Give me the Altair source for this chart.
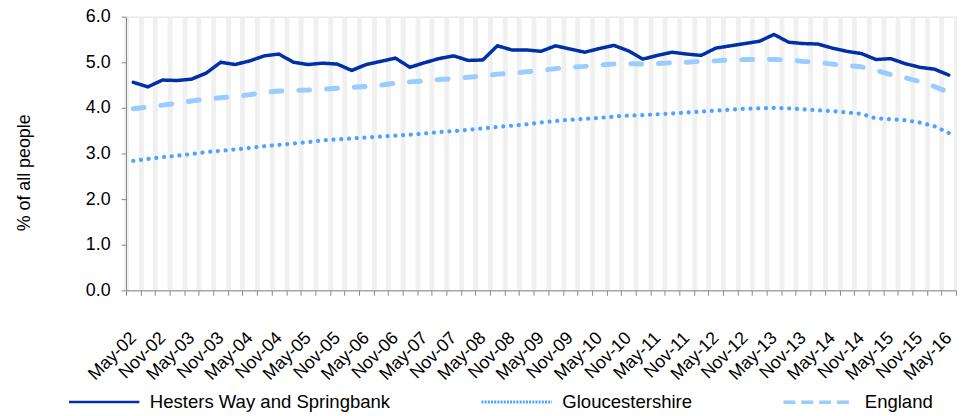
import altair as alt
import pandas as pd

FONT = "Liberation Sans"

# Quarterly periods, May-02 .. May-16
month_names = ["Feb", "May", "Aug", "Nov"]
years = list(range(2, 17))
all_q = [f"{m}-{y:02d}" for y in years for m in month_names]
quarters = all_q[all_q.index("May-02"): all_q.index("May-16") + 1]

series_names = ["Hesters Way and Springbank", "Gloucestershire", "England"]

hesters = [4.56, 4.46, 4.61, 4.60, 4.63, 4.76, 5.00, 4.95, 5.03, 5.14,
           5.18, 5.00, 4.95, 4.98, 4.96, 4.82, 4.95, 5.02, 5.09, 4.89,
           4.99, 5.08, 5.14, 5.04, 5.05, 5.36, 5.27, 5.27, 5.24, 5.36,
           5.29, 5.22, 5.30, 5.37, 5.25, 5.07, 5.15, 5.22, 5.18, 5.15,
           5.31, 5.36, 5.41, 5.46, 5.61, 5.44, 5.41, 5.40, 5.31, 5.24,
           5.19, 5.06, 5.08, 4.97, 4.89, 4.85, 4.72]

gloucs = [2.84, 2.88, 2.92, 2.95, 2.99, 3.03, 3.06, 3.09, 3.12, 3.16,
          3.19, 3.22, 3.25, 3.29, 3.31, 3.33, 3.35, 3.37, 3.39, 3.41,
          3.44, 3.47, 3.49, 3.52, 3.55, 3.58, 3.61, 3.64, 3.68, 3.71,
          3.74, 3.76, 3.78, 3.81, 3.83, 3.84, 3.86, 3.88, 3.90, 3.92,
          3.94, 3.96, 3.98, 3.99, 4.00, 3.99, 3.97, 3.95, 3.93, 3.90,
          3.87, 3.77, 3.75, 3.73, 3.68, 3.60, 3.45]

england = [3.98, 4.02, 4.06, 4.10, 4.15, 4.19, 4.22, 4.25, 4.29, 4.34,
           4.37, 4.38, 4.39, 4.41, 4.43, 4.45, 4.47, 4.50, 4.54, 4.57,
           4.59, 4.62, 4.64, 4.67, 4.70, 4.74, 4.76, 4.79, 4.82, 4.86,
           4.89, 4.91, 4.94, 4.96, 4.97, 4.96, 4.97, 4.99, 5.00, 5.02,
           5.03, 5.05, 5.06, 5.06, 5.06, 5.05, 5.02, 5.00, 4.96, 4.93,
           4.90, 4.82, 4.73, 4.66, 4.58, 4.47, 4.34]

y_ticks = [0, 1, 2, 3, 4, 5, 6]

colors = ["#0030a8", "#4da3ff", "#99ccff"]
# line styles in the plot
dashes = [[1, 0], [0.01, 7.8], [11, 17]]
widths = [3.5, 5.0, 6.3]
# line styles in the legend
legend_dashes = [[1, 0], [2, 1.2], [12, 6]]
legend_widths = [2.5, 3.5, 4.5]

df = pd.DataFrame({
    "quarter": quarters * 3,
    "value": hesters + gloucs + england,
    "series": [series_names[0]] * len(quarters)
              + [series_names[1]] * len(quarters)
              + [series_names[2]] * len(quarters),
})

x_scale = alt.Scale(type="band", domain=quarters, paddingInner=0, paddingOuter=0)
y_scale = alt.Scale(domain=[0, 6])

x_axis = alt.Axis(
    title=None, labelAngle=-45, labelAlign="right", labelBaseline="middle",
    labelFontSize=18, labelFont=FONT, labelColor="black", labelPadding=40,
    tickBand="extent", tickSize=5, tickColor="#888888", domainColor="#888888",
    grid=True, gridColor="#f0f0f0", gridWidth=5, labelOverlap=False,
    labelExpr="test(/^(May|Nov)/, datum.label) ? datum.label : ''",
)
y_axis = alt.Axis(
    title="% of all people", values=y_ticks, format=".1f",
    labelFontSize=18, labelFont=FONT, labelColor="black", labelPadding=11,
    tickSize=5, tickColor="#888888", domainColor="#888888", grid=False,
    titleFontSize=18, titleFont=FONT, titleFontWeight="normal", titleColor="black",
    titleX=-102, titleY=157, titleAngle=270, titleAlign="center", titleBaseline="middle",
)

legend = alt.Legend(
    orient="none", legendX=-59, legendY=351, direction="horizontal",
    title=None, symbolType="stroke", symbolSize=5041,
    labelFontSize=18.7, labelFont=FONT, labelColor="black",
    columnPadding=85, labelOffset=9, labelLimit=0,
)

x_enc = alt.X("quarter:O", sort=quarters, scale=x_scale, axis=x_axis)
y_enc = alt.Y("value:Q", scale=y_scale, axis=y_axis)

lines = alt.Chart(df).mark_line(strokeCap="round", strokeJoin="round").encode(
    x=x_enc,
    y=y_enc,
    color=alt.Color("series:N", scale=alt.Scale(domain=series_names, range=colors), legend=None),
    strokeDash=alt.StrokeDash("series:N", scale=alt.Scale(domain=series_names, range=dashes), legend=None),
    strokeWidth=alt.StrokeWidth("series:N", scale=alt.Scale(domain=series_names, range=widths), legend=None),
)

legend_layer = alt.Chart(df).transform_filter("false").mark_line().encode(
    x=x_enc,
    y=y_enc,
    color=alt.Color("series:N", scale=alt.Scale(domain=series_names, range=colors), legend=legend),
    strokeDash=alt.StrokeDash("series:N", scale=alt.Scale(domain=series_names, range=legend_dashes), legend=legend),
    strokeWidth=alt.StrokeWidth("series:N", scale=alt.Scale(domain=series_names, range=legend_widths), legend=legend),
)

chart = alt.layer(lines, legend_layer).resolve_scale(
    color="independent", strokeDash="independent", strokeWidth="independent"
).properties(
    width=837, height=276,
    autosize=alt.AutoSizeParams(type="none"),
    padding={"left": 119, "top": 7, "right": 1, "bottom": 125},
).configure_view(strokeWidth=0, strokeOpacity=0).configure(background="white")

chart.save("out.html", embed_options={"renderer": "svg", "actions": False})
